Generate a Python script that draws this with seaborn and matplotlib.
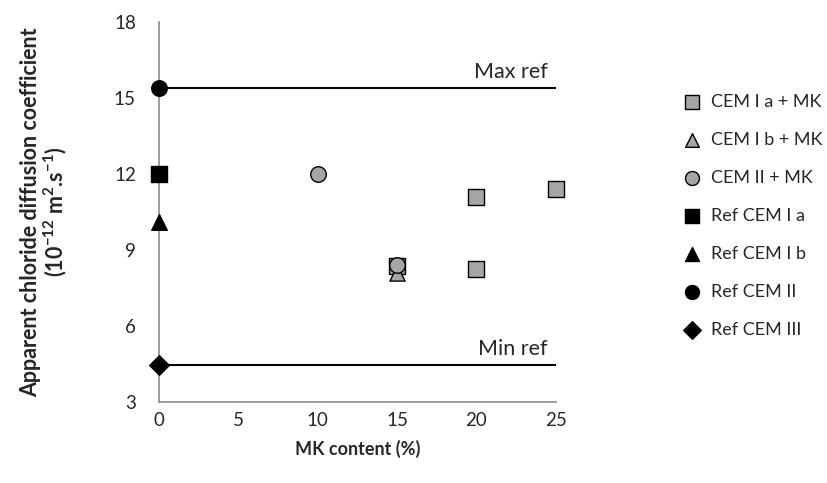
import seaborn as sns
import matplotlib.pyplot as plt
import pandas as pd

# Data
series = ["CEM I a + MK", "CEM I b + MK", "CEM II + MK",
          "Ref CEM I a", "Ref CEM I b", "Ref CEM II", "Ref CEM III"]
mk_content = [[15, 20, 20, 25], [15], [10, 15], [0], [0], [0], [0]]
diffusion = [[8.35, 11.1, 8.25, 11.4], [8.1], [12.0, 8.4], [12.0], [10.1], [15.4], [4.45]]
markers = ["s", "^", "o", "s", "^", "o", "D"]
colors = ["#A6A6A6", "#A6A6A6", "#A6A6A6", "black", "black", "black", "black"]
sizes = [125, 120, 125, 125, 125, 125, 100]

max_ref = 15.4
min_ref = 4.45
x_ticks = [0, 5, 10, 15, 20, 25]
y_ticks = [3, 6, 9, 12, 15, 18]

rows = []
for name, xs, ys in zip(series, mk_content, diffusion):
    for xv, yv in zip(xs, ys):
        rows.append({"series": name, "MK": xv, "D": yv})
df = pd.DataFrame(rows)

sns.set_style("white")
plt.rcParams["font.family"] = ["Lato", "DejaVu Sans"]
plt.rcParams["mathtext.fontset"] = "custom"
plt.rcParams["mathtext.bf"] = "Lato:bold"
plt.rcParams["mathtext.rm"] = "Lato"

fig = plt.figure(figsize=(8.27, 4.83), dpi=100)
ax = fig.add_axes([0.192, 0.168, 0.48, 0.786])

# Reference lines
ax.plot([0, 25], [max_ref, max_ref], color="black", lw=1.5, zorder=1)
ax.plot([0, 25], [min_ref, min_ref], color="black", lw=1.5, zorder=1)
ax.text(24.5, max_ref + 0.25, "Max ref", ha="right", va="bottom", fontsize=15.5)
ax.text(24.5, min_ref + 0.25, "Min ref", ha="right", va="bottom", fontsize=15.5)

for name, m, c, s in zip(series, markers, colors, sizes):
    sub = df[df["series"] == name]
    sns.scatterplot(data=sub, x="MK", y="D", ax=ax, marker=m, color=c, s=s,
                    edgecolor="black", linewidth=1.0, label=name, zorder=3,
                    clip_on=False)

ax.set_xlim(0, 25)
ax.set_ylim(3, 18)
ax.set_xticks(x_ticks)
ax.set_yticks(y_ticks)
for sp in ["top", "right"]:
    ax.spines[sp].set_visible(False)
for sp in ["left", "bottom"]:
    ax.spines[sp].set_color("#8C8C8C")
    ax.spines[sp].set_linewidth(1.2)
ax.tick_params(axis="x", direction="inout", length=9, width=1.2,
               color="#8C8C8C", labelsize=13.5, pad=3)
ax.tick_params(axis="y", direction="inout", length=9, width=1.2,
               color="#8C8C8C", labelsize=13.5, pad=12)

ax.set_xlabel("MK content (%)", fontsize=13, fontweight="bold", labelpad=8)
ax.set_ylabel("Apparent chloride diffusion coefficient\n"
              r"(10$^{\mathbf{-12}}$ m$^{\mathbf{2}}$.s$^{\mathbf{-1}}$)",
              fontsize=15.5, fontweight="bold", labelpad=32, linespacing=1.05)

ax.legend(loc="upper left", bbox_to_anchor=(1.28, 0.83), frameon=False,
          fontsize=13, handletextpad=0.05, labelspacing=1.22,
          markerscale=0.9, borderaxespad=0)

fig.savefig("out.png", dpi=100)
